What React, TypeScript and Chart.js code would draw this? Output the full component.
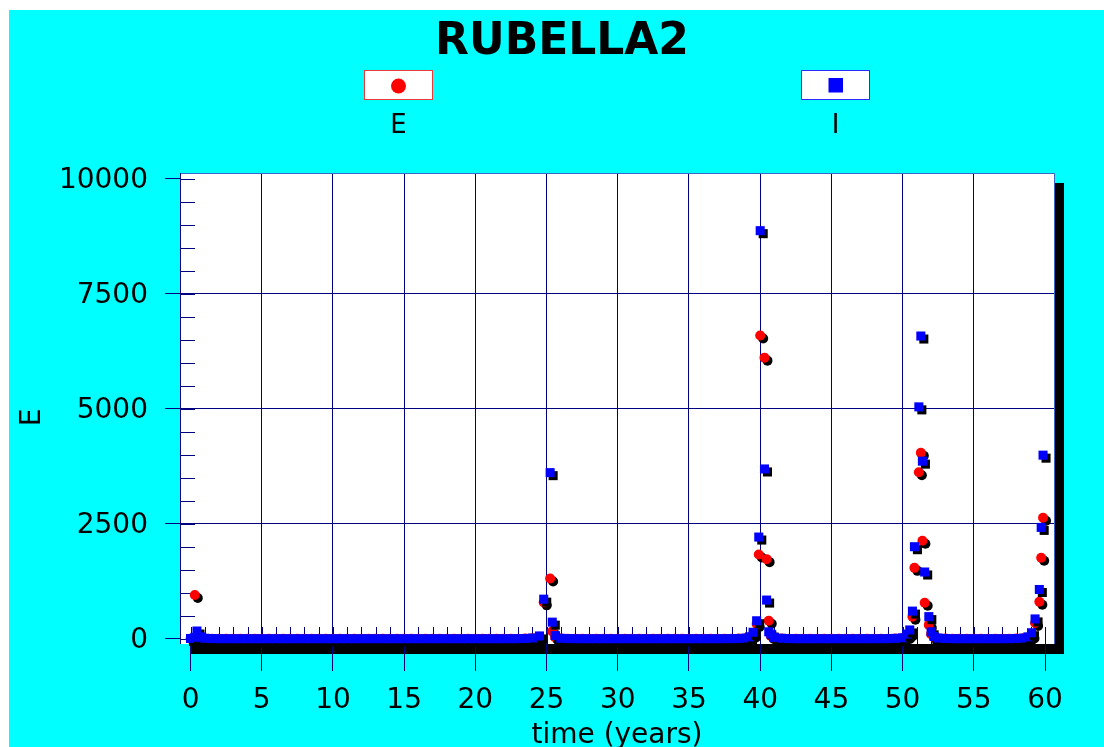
import React, { useEffect, useRef } from 'react';
import { Chart, registerables } from 'chart.js';

Chart.register(...registerables);

// ---- data (years, values) ----
const time = [
  0, 0.3, 0.45, 0.7,
  1, 1.5, 2, 2.5, 3, 3.5, 4, 4.5, 5, 5.5, 6, 6.5, 7, 7.5, 8, 8.5, 9, 9.5, 10, 10.5, 11, 11.5, 12,
  12.5, 13, 13.5, 14, 14.5, 15, 15.5, 16, 16.5, 17, 17.5, 18, 18.5, 19, 19.5, 20, 20.5, 21, 21.5, 22, 22.5, 23, 23.5, 24,
  24.5, 24.8, 25.25, 25.4, 25.6,
  26, 26.5, 27, 27.5, 28, 28.5, 29, 29.5, 30, 30.5, 31, 31.5, 32,
  32.5, 33, 33.5, 34, 34.5, 35, 35.5, 36, 36.5, 37, 37.5, 38, 38.5, 39,
  39.25, 39.5, 39.75, 39.9, 40, 40.3, 40.45, 40.6, 40.75, 41,
  41.5, 42, 42.5, 43, 43.5, 44, 44.5, 45, 45.5, 46, 46.5, 47, 47.5, 48, 48.5, 49, 49.5,
  50, 50.3, 50.5, 50.69, 50.83, 51.14, 51.28, 51.39, 51.55, 51.84, 52, 52.2,
  52.5, 53, 53.5, 54, 54.5, 55, 55.5, 56, 56.5, 57, 57.5, 58, 58.5,
  58.8, 59.05, 59.3, 59.6, 59.73, 59.86,
];

const eValues = [
  0, 950, 40, 8,
  3, 1, 0, 0, 0, 0, 0, 0, 0, 0, 0, 0, 0, 0, 0, 0, 0, 0, 0, 0, 0, 0, 0,
  0, 0, 0, 0, 0, 0, 0, 0, 0, 0, 0, 0, 0, 0, 0, 0, 0, 0, 0, 0, 0, 1, 2, 8,
  40, 790, 1310, 160, 25,
  5, 1, 0, 0, 0, 0, 0, 0, 0, 0, 0, 0, 0,
  0, 0, 0, 0, 0, 0, 0, 0, 0, 0, 0, 1, 3, 8,
  25, 90, 320, 1830, 6590, 6110, 1730, 390, 60, 20,
  5, 1, 0, 0, 0, 0, 0, 0, 0, 0, 0, 0, 0, 0, 0, 1, 4,
  10, 60, 120, 480, 1540, 3620, 4040, 2130, 780, 300, 100, 30,
  8, 2, 0, 0, 0, 0, 0, 0, 0, 0, 1, 3, 8,
  20, 70, 340, 805, 1760, 2630,
];

const iValues = [
  5, 30, 167, 40,
  10, 3, 1, 0, 0, 0, 0, 0, 0, 0, 0, 0, 0, 0, 0, 0, 0, 0, 0, 0, 0, 0, 0,
  0, 0, 0, 0, 0, 0, 0, 0, 0, 0, 0, 0, 0, 0, 0, 0, 0, 0, 0, 0, 1, 2, 5, 15,
  60, 860, 3610, 360, 70,
  10, 3, 1, 0, 0, 0, 0, 0, 0, 0, 0, 0, 0,
  0, 0, 0, 0, 0, 0, 0, 0, 0, 0, 1, 2, 5, 15,
  40, 140, 390, 2210, 8870, 3690, 840, 150, 100, 30,
  10, 3, 1, 0, 0, 0, 0, 0, 0, 0, 0, 0, 0, 0, 1, 3, 8,
  20, 100, 190, 600, 2000, 5040, 6580, 3860, 1450, 480, 150, 50,
  15, 5, 1, 0, 0, 0, 0, 0, 0, 0, 1, 5, 15,
  40, 130, 430, 1070, 2420, 3990,
];

const xTickValues = [0, 5, 10, 15, 20, 25, 30, 35, 40, 45, 50, 55, 60];
const yTickValues = [0, 2500, 5000, 7500, 10000];
const yGridValues = [2500, 5000, 7500];
const xGridValues = [5, 10, 15, 20, 25, 30, 35, 40, 45, 50, 55];
const xMinorStep = 1;
const yMinorStep = 500;

const chartTitle = 'RUBELLA2';
const seriesNames = ['E', 'I'];
const xTitle = 'time (years)';
const yTitle = 'E';

const NAVY = '#000080';
const FONT = '"DejaVu Sans", Verdana, sans-serif';

const decorPlugin = {
  id: 'decor',
  beforeDraw(chart: any) {
    const { ctx, chartArea: a } = chart;
    ctx.save();
    ctx.setTransform(1, 0, 0, 1, 0, 0);
    ctx.fillStyle = '#00ffff';
    ctx.fillRect(0, 0, ctx.canvas.width, ctx.canvas.height);
    ctx.restore();
    ctx.save();
    ctx.fillStyle = '#000000';
    ctx.fillRect(a.left + 10, a.top + 10, a.right - a.left, a.bottom - a.top);
    ctx.fillStyle = '#ffffff';
    ctx.fillRect(a.left, a.top, a.right - a.left, a.bottom - a.top);
    ctx.restore();
  },
  beforeDatasetsDraw(chart: any) {
    const { ctx, chartArea: a, scales } = chart;
    const xs = scales.x;
    const ys = scales.y;
    ctx.save();
    ctx.strokeStyle = NAVY;
    ctx.lineWidth = 1;
    ctx.beginPath();
    for (let v = 0; v <= 60; v += xMinorStep) {
      const px = Math.round(xs.getPixelForValue(v)) + 0.5;
      ctx.moveTo(px, a.bottom);
      ctx.lineTo(px, a.bottom - 17);
    }
    for (let v = 0; v <= 10000; v += yMinorStep) {
      const py = Math.round(ys.getPixelForValue(v)) + 0.5;
      ctx.moveTo(a.left, py);
      ctx.lineTo(a.left + 15, py);
    }
    ctx.stroke();
    // frame
    ctx.beginPath();
    ctx.strokeStyle = '#3a66c8';
    ctx.moveTo(a.left, a.top + 0.5);
    ctx.lineTo(a.right + 0.5, a.top + 0.5);
    ctx.lineTo(a.right + 0.5, a.bottom);
    ctx.stroke();
    ctx.beginPath();
    ctx.strokeStyle = NAVY;
    ctx.moveTo(a.left + 0.5, a.top);
    ctx.lineTo(a.left + 0.5, a.bottom);
    ctx.stroke();
    ctx.restore();
    // point shadows
    ctx.save();
    ctx.shadowColor = '#000000';
    ctx.shadowOffsetX = 3;
    ctx.shadowOffsetY = 3;
    ctx.shadowBlur = 0;
  },
  afterDatasetsDraw(chart: any) {
    chart.ctx.restore();
  },
  afterDraw(chart: any) {
    const { ctx } = chart;
    ctx.save();
    ctx.fillStyle = '#000000';
    ctx.textAlign = 'center';
    ctx.textBaseline = 'alphabetic';
    ctx.font = `bold 44px ${FONT}`;
    ctx.fillText(chartTitle, 553, 44);

    // legend boxes
    const boxes = [
      { cx: 389.5, border: '#e83a3a', color: '#ff0000', shape: 'circle' },
      { cx: 826.5, border: '#2a2aff', color: '#0000ff', shape: 'rect' },
    ];
    boxes.forEach((b, i) => {
      ctx.fillStyle = '#ffffff';
      ctx.fillRect(b.cx - 34.5, 60, 69, 30);
      ctx.strokeStyle = b.border;
      ctx.lineWidth = 1;
      ctx.strokeRect(b.cx - 34, 60.5, 68, 29);
      ctx.fillStyle = b.color;
      if (b.shape === 'circle') {
        ctx.beginPath();
        ctx.arc(b.cx, 76, 7.5, 0, Math.PI * 2);
        ctx.fill();
      } else {
        ctx.fillRect(b.cx - 7, 68, 14.5, 14.5);
      }
      ctx.fillStyle = '#000000';
      ctx.font = `26px ${FONT}`;
      ctx.fillText(seriesNames[i], b.cx, 123);
    });
    ctx.restore();
  },
};

export default function App() {
  const ref = useRef<HTMLCanvasElement>(null);
  useEffect(() => {
    const canvas = ref.current!;
    const eData = time.map((t, i) => ({ x: t, y: eValues[i] }));
    const iData = time.map((t, i) => ({ x: t, y: iValues[i] }));
    const chart = new Chart(canvas, {
      type: 'scatter',
      data: {
        datasets: [
          {
            label: seriesNames[0],
            data: eData,
            pointStyle: 'circle',
            pointRadius: 5,
            pointHoverRadius: 5,
            backgroundColor: '#ff0000',
            borderColor: '#ff0000',
            borderWidth: 0,
            order: 1,
            clip: false,
          } as any,
          {
            label: seriesNames[1],
            data: iData,
            pointStyle: 'rect',
            pointRadius: 6.4,
            pointHoverRadius: 6.4,
            backgroundColor: '#0000ff',
            borderColor: '#0000ff',
            borderWidth: 0,
            order: 0,
            clip: false,
          } as any,
        ],
      },
      options: {
        responsive: false,
        animation: false,
        devicePixelRatio: 1,
        events: [],
        layout: { padding: { left: 0, top: 163, right: 65, bottom: 0 } },
        plugins: {
          legend: { display: false },
          tooltip: { enabled: false },
          title: { display: false },
        },
        scales: {
          x: {
            type: 'linear',
            min: -0.74,
            max: 60.63,
            afterBuildTicks: (s: any) => {
              s.ticks = xTickValues.map((v) => ({ value: v }));
            },
            afterFit: (s: any) => {
              s.height = 136;
            },
            ticks: {
              color: '#000000',
              font: { family: FONT, size: 28 },
              padding: 13,
              maxRotation: 0,
              autoSkip: false,
              callback: (v: any) => String(v),
            },
            grid: {
              color: (c: any) =>
                c.tick && xGridValues.includes(c.tick.value) ? NAVY : 'rgba(0,0,0,0)',
              tickColor: NAVY,
              tickLength: 27,
              lineWidth: 1,
            },
            border: { display: false },
            title: {
              display: true,
              text: xTitle,
              color: '#000000',
              font: { family: FONT, size: 28 },
              padding: { top: 0, bottom: 27 },
            },
          },
          y: {
            type: 'linear',
            min: -115,
            max: 10124,
            afterBuildTicks: (s: any) => {
              s.ticks = yTickValues.map((v) => ({ value: v }));
            },
            afterFit: (s: any) => {
              s.width = 171;
            },
            ticks: {
              color: '#000000',
              font: { family: FONT, size: 28 },
              padding: 17,
              labelOffset: 2,
              autoSkip: false,
              callback: (v: any) => String(v),
            },
            grid: {
              color: (c: any) =>
                c.tick && yGridValues.includes(c.tick.value) ? NAVY : 'rgba(0,0,0,0)',
              tickColor: NAVY,
              tickLength: 15,
              lineWidth: 1,
            },
            border: { display: false },
            title: {
              display: true,
              text: yTitle + '  ',
              color: '#000000',
              font: { family: FONT, size: 28 },
              padding: { top: 7, bottom: 0 },
            },
          },
        },
      },
      plugins: [decorPlugin],
    });
    return () => chart.destroy();
  }, []);

  return (
    <div
      style={{
        position: 'fixed',
        left: 9,
        top: 10,
        width: 1110,
        height: 770,
        overflow: 'hidden',
      }}
    >
      <canvas ref={ref} width={1110} height={770} style={{ display: 'block' }} />
    </div>
  );
}
